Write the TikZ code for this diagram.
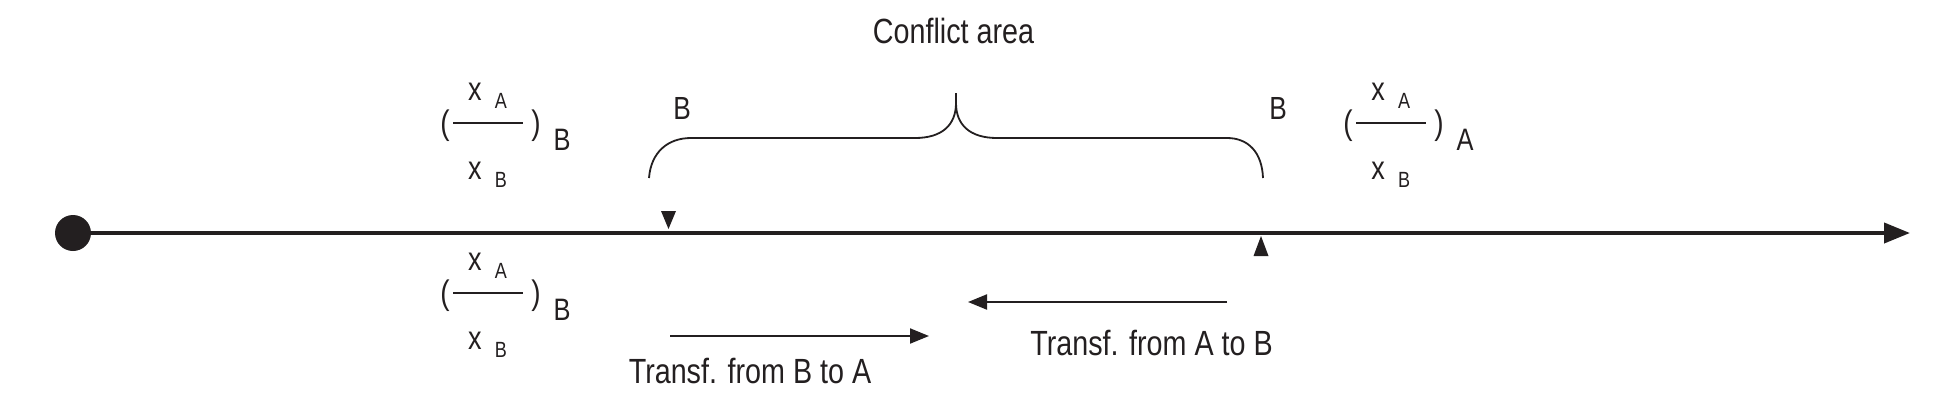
\documentclass[tikz,border=0pt]{standalone}
\usepackage{fontspec}
\setmainfont{Liberation Sans}[FakeStretch=0.82]
\usetikzlibrary{arrows.meta}
\definecolor{ink}{RGB}{35,31,32}
\newcommand\fsz[1]{\fontsize{#1}{#1}\selectfont}
\newcommand\xfrac[4]{%
  \begin{scope}[shift={(#2,#3)}]
    \node[paren] (#1-lp) at (3,3) {(};
    \node[paren] (#1-rp) at (94,3) {)};
    \coordinate (#1-l1) at (11,0);
    \coordinate (#1-l2) at (81,0);
    \draw[fracline] (#1-l1) -- (#1-l2);
    \node[varx] (#1-xt) at (33,-31.5) {x};
    \node[subl] (#1-st) at (59,-22.5) {A};
    \node[varx] (#1-xb) at (33,48) {x};
    \node[subl] (#1-sb) at (59,57) {B};
    \node[outsub] (#1-o) at (120,16.5) {#4};
  \end{scope}}
\begin{document}
\begin{tikzpicture}[x=0.5pt,y=-0.5pt,
  every node/.style={inner sep=0pt,outer sep=0pt,text=ink},
  label/.style={font=\fsz{17.5pt}},
  paren/.style={font=\fsz{17pt}},
  varx/.style={font=\fsz{16.5pt}},
  subl/.style={font=\fsz{11pt}},
  outsub/.style={font=\fsz{15.5pt}},
  blabel/.style={font=\fsz{16pt}},
  fracline/.style={draw=ink,line width=1pt},
  axis/.style={draw=ink,line width=2pt,-{Triangle[length=13pt,width=10pt]}},
  brace/.style={draw=ink,line width=0.9pt,line join=round},
  transfer/.style={draw=ink,line width=1pt,-{Triangle[length=9.5pt,width=7.5pt]}}]
\useasboundingbox (0,0) rectangle (1954,408);

% main axis
\node[circle,fill=ink,minimum size=18pt] (origin) at (73,233) {};
\coordinate (axisend) at (1910,233);
\draw[axis] (origin) -- (axisend);

% markers
\fill[ink] (661,211) -- (676,211) -- (668.5,229) -- cycle;
\fill[ink] (1261,236) -- (1268.5,256) -- (1253.5,256) -- cycle;

% brace
\draw[brace] (649,178) .. controls (651,152) and (668,138) .. (691,138)
  -- (915,138) .. controls (942,138) and (956,125) .. (956,103) -- (956,93)
  (956,103) .. controls (956,125) and (970,138) .. (997,138)
  -- (1227,138) .. controls (1248,138) and (1262,152) .. (1263,178);

% labels
\node[label,anchor=base] (conflict) at (953.5,43) {Conflict area};
\node[blabel] (bl) at (682,108.5) {B};
\node[blabel] (br) at (1278,108.5) {B};

% fractions
\xfrac{ul}{442}{123}{B}
\xfrac{ur}{1345}{123}{A}
\xfrac{ll}{442}{293}{B}

% transfer arrows
\coordinate (ba1) at (670,336);
\coordinate (ba2) at (929,336);
\draw[transfer] (ba1) -- (ba2);
\coordinate (ab1) at (1227,302);
\coordinate (ab2) at (968,302);
\draw[transfer] (ab1) -- (ab2);
\node[label,anchor=base] (tab) at (1151.5,355) {Transf. from A to B};
\node[label,anchor=base] (tba) at (750,383) {Transf. from B to A};
\end{tikzpicture}
\end{document}
